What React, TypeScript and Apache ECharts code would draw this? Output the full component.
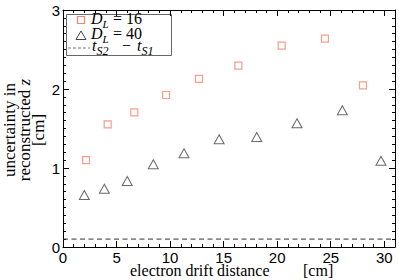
import React, { useEffect, useRef } from "react";
import * as echarts from "echarts";

// D_L = 16 (squares)
const squareX = [2.15, 4.17, 6.66, 9.62, 12.7, 16.37, 20.42, 24.46, 28.01];
const squareY = [1.1, 1.553, 1.705, 1.924, 2.127, 2.295, 2.548, 2.637, 2.047];
// D_L = 40 (triangles)
const triX = [1.99, 3.86, 6.0, 8.43, 11.3, 14.58, 18.09, 21.85, 26.08, 29.69];
const triY = [0.658, 0.738, 0.835, 1.047, 1.186, 1.363, 1.392, 1.566, 1.73, 1.092];
// t_S2 - t_S1 reference level
const refLevel = 0.1;
const xRange = [0, 31];
const yRange = [0, 3];

const SERIF = "serif";
const SANS = "Liberation Sans";
const SQ_COLOR = "#f4846f";
const TRI_COLOR = "#444";

// (x, yMid) -> text element positioned by its top-left corner
function txt(text: string, x: number, yMid: number, size: number, italic = false) {
  const style: any = { text, fill: "#000", fontSize: size, fontFamily: SERIF };
  if (italic) style.fontStyle = "italic";
  return { type: "text", x, y: yMid - size / 2, style };
}

export default function App() {
  const ref = useRef<HTMLDivElement>(null);
  useEffect(() => {
    const chart = echarts.init(ref.current!, null, { renderer: "svg" });
    const tickLine = { lineStyle: { color: "#000", width: 1 } };
    const majorX = (pos: string, labels: boolean) => ({
      type: "value",
      position: pos,
      min: xRange[0],
      max: xRange[1],
      interval: 5,
      axisLine: { show: true, onZero: false, lineStyle: { color: "#000", width: 1 } },
      axisTick: { show: true, inside: true, length: 6, ...tickLine },
      axisLabel: {
        show: labels,
        showMaxLabel: false,
        margin: 3,
        fontSize: 15,
        fontFamily: SANS,
        color: "#000",
      },
      splitLine: { show: false },
    });
    const minorX = (pos: string) => ({
      type: "value",
      position: pos,
      min: xRange[0],
      max: xRange[1],
      interval: 1,
      axisLine: { show: false, onZero: false },
      axisTick: { show: true, inside: true, length: 3, ...tickLine },
      axisLabel: { show: false },
      splitLine: { show: false },
    });
    const yAx = (pos: string, labels: boolean) => ({
      type: "value",
      position: pos,
      min: yRange[0],
      max: yRange[1],
      interval: 1,
      axisLine: { show: true, onZero: false, lineStyle: { color: "#000", width: 1 } },
      axisTick: { show: true, inside: true, length: 6, ...tickLine },
      minorTick: { show: true, splitNumber: 10, length: 3, lineStyle: { color: "#000", width: 1 } },
      axisLabel: {
        show: labels,
        margin: 3,
        fontSize: 15,
        fontFamily: SANS,
        color: "#000",
      },
      splitLine: { show: false },
      minorSplitLine: { show: false },
    });

    const option: any = {
      animation: false,
      backgroundColor: "#fff",
      grid: { left: 63, right: 4, top: 10, bottom: 33, containLabel: false },
      xAxis: [majorX("bottom", true), minorX("bottom"), majorX("top", false), minorX("top")],
      yAxis: [yAx("left", true), yAx("right", false)],
      series: [
        {
          type: "line",
          data: [
            [xRange[0], refLevel],
            [xRange[1], refLevel],
          ],
          symbol: "none",
          silent: true,
          lineStyle: { color: "#333", width: 1, type: [5, 3.5] },
        },
        {
          type: "scatter",
          data: squareX.map((x, i) => [x, squareY[i]]),
          symbol: "rect",
          symbolSize: 7,
          itemStyle: { color: "rgba(0,0,0,0)", borderColor: SQ_COLOR, borderWidth: 1.2 },
        },
        {
          type: "scatter",
          data: triX.map((x, i) => [x, triY[i]]),
          symbol: "triangle",
          symbolSize: [10, 9],
          itemStyle: { color: "rgba(0,0,0,0)", borderColor: TRI_COLOR, borderWidth: 1 },
        },
      ],
      graphic: [
        {
          type: "rect",
          shape: { x: 66.5, y: 14.5, width: 105, height: 41 },
          style: { fill: "#fff", stroke: "#666", lineWidth: 1 },
        },
        {
          type: "rect",
          shape: { x: 77.5, y: 16.5, width: 7, height: 7 },
          style: { fill: "none", stroke: SQ_COLOR, lineWidth: 1.2 },
        },
        {
          type: "polygon",
          shape: { points: [[76, 39.5], [86, 39.5], [81, 31]] },
          style: { fill: "none", stroke: TRI_COLOR, lineWidth: 1 },
        },
        {
          type: "line",
          shape: { x1: 68, y1: 48, x2: 90, y2: 48 },
          style: { stroke: "#777", lineWidth: 1, lineDash: [3, 2] },
        },
        txt("D", 91, 18.6, 16, true),
        txt("L", 102.5, 24, 11, true),
        txt("= 16", 113, 18.6, 16),
        txt("D", 91, 33.6, 16, true),
        txt("L", 102.5, 39, 11, true),
        txt("= 40", 113, 33.6, 16),
        txt("t", 92, 45.6, 16, true),
        txt("S2", 96.5, 50.9, 12, true),
        txt("\u2212", 122, 45.6, 16),
        txt("t", 137, 45.6, 16, true),
        txt("S1", 141.5, 50.9, 12, true),
        txt("electron drift distance", 130, 270.6, 16),
        txt("[cm]", 303, 270.6, 16),
        {
          type: "text",
          x: 24,
          y: 130,
          rotation: Math.PI / 2,
          style: {
            text: "{a|uncertainty in}\n{a|reconstructed }{b|z}\n{a|[cm]}",
            rich: {
              a: { fontSize: 17, fontFamily: SERIF, lineHeight: 14.5, fill: "#000" },
              b: { fontSize: 17, fontFamily: SERIF, fontStyle: "italic", lineHeight: 14.5, fill: "#000" },
            },
            fontSize: 17,
            fontFamily: SERIF,
            align: "center",
            verticalAlign: "middle",
            fill: "#000",
          },
        },
      ],
    };
    chart.setOption(option);
    return () => chart.dispose();
  }, []);
  return (
    <div
      ref={ref}
      style={{ position: "fixed", left: 0, top: 0, width: 399, height: 280, background: "#fff" }}
    />
  );
}
